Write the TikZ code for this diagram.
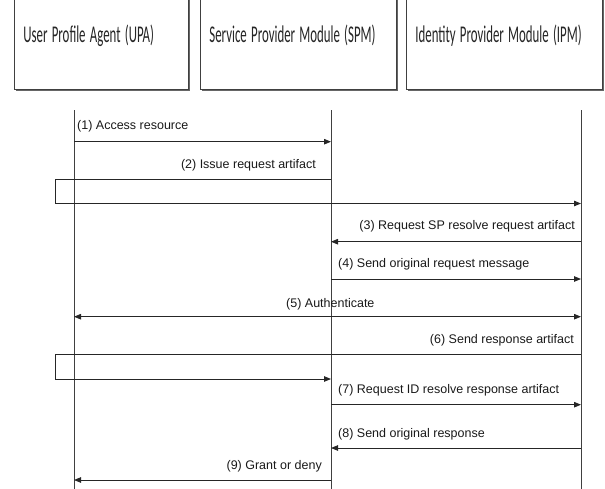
\documentclass[tikz,border=0pt]{standalone}
\usepackage{fontspec}
\setmainfont{Liberation Sans}
\newfontfamily\boxfont{Carlito}
\usetikzlibrary{arrows.meta,shadows}
\newcommand{\boxtext}[1]{\scalebox{0.535}[1]{#1}}
\begin{document}
\begin{tikzpicture}[x=1pt,y=-1pt,
  tip/.tip={Triangle[length=7pt,width=5.5pt]},
  lane/.style={draw=black!75, line width=0.9pt},
  msg/.style={draw=black!85, line width=0.9pt, -tip},
  dmsg/.style={draw=black!85, line width=0.9pt, tip-tip},
  lbl/.style={font=\fontsize{12.5}{14}\selectfont, inner sep=0pt, text=black!90},
  actor/.style={draw=black!75, line width=0.8pt, fill=white,
    drop shadow={shadow xshift=1.5pt, shadow yshift=-1.8pt, fill=black!60, opacity=1},
    font=\boxfont\fontsize{24}{26}\selectfont, text=black!85, align=left,
    inner xsep=9pt, inner ysep=0pt, anchor=north west, minimum height=108pt}
]
\useasboundingbox (0,0) rectangle (605,488);
\clip (0,0) rectangle (605,488);

% actor boxes
\node[actor, text width=156pt] (upa) at (14,-19) {\boxtext{User Profile Agent (UPA)}};
\node[actor, text width=178pt] (spm) at (200,-19) {\boxtext{Service Provider Module (SPM)}};
\node[actor, text width=178pt] (ipm) at (406,-19) {\boxtext{Identity Provider Module (IPM)}};

% lifelines
\coordinate (L1t) at (74,110);  \coordinate (L1b) at (74,492);
\coordinate (L2t) at (331,110); \coordinate (L2b) at (331,492);
\coordinate (L3t) at (581,110); \coordinate (L3b) at (581,492);
\draw[lane] (L1t) -- (L1b);
\draw[lane] (L2t) -- (L2b);
\draw[lane] (L3t) -- (L3b);

% (1)
\coordinate (m1a) at (74,141.7); \coordinate (m1b) at (331,141.7);
\draw[msg] (m1a) -- (m1b);
\node[lbl, anchor=west] (t1) at (77,126) {(1) Access resource};

% (2)
\coordinate (m2a) at (331,179); \coordinate (m2c) at (55,179);
\coordinate (m2d) at (55,203.5); \coordinate (m2b) at (581,203.5);
\draw[msg] (m2a) -- (m2c) -- (m2d) -- (m2b);
\node[lbl, anchor=east] (t2) at (316,165) {(2) Issue request artifact};

% (3)
\coordinate (m3a) at (581,241.7); \coordinate (m3b) at (331,241.7);
\draw[msg] (m3a) -- (m3b);
\node[lbl, anchor=east] (t3) at (575,226) {(3) Request SP resolve request artifact};

% (4)
\coordinate (m4a) at (331,279); \coordinate (m4b) at (581,279);
\draw[msg] (m4a) -- (m4b);
\node[lbl, anchor=west] (t4) at (338,264) {(4) Send original request message};

% (5)
\coordinate (m5a) at (74,316.7); \coordinate (m5b) at (581,316.7);
\draw[dmsg] (m5a) -- (m5b);
\node[lbl, anchor=west] (t5) at (286,304) {(5) Authenticate};

% (6)
\coordinate (m6a) at (581,354); \coordinate (m6c) at (55,354);
\coordinate (m6d) at (55,379); \coordinate (m6b) at (331,379);
\draw[msg] (m6a) -- (m6c) -- (m6d) -- (m6b);
\node[lbl, anchor=east] (t6) at (574,340) {(6) Send response artifact};

% (7)
\coordinate (m7a) at (331,404.7); \coordinate (m7b) at (581,404.7);
\draw[msg] (m7a) -- (m7b);
\node[lbl, anchor=west] (t7) at (338,390) {(7) Request ID resolve response artifact};

% (8)
\coordinate (m8a) at (581,448); \coordinate (m8b) at (331,448);
\draw[msg] (m8a) -- (m8b);
\node[lbl, anchor=west] (t8) at (338,434) {(8) Send original response};

% (9)
\coordinate (m9a) at (331,480); \coordinate (m9b) at (74,480);
\draw[msg] (m9a) -- (m9b);
\node[lbl, anchor=east] (t9) at (322,466) {(9) Grant or deny};
\end{tikzpicture}
\end{document}
